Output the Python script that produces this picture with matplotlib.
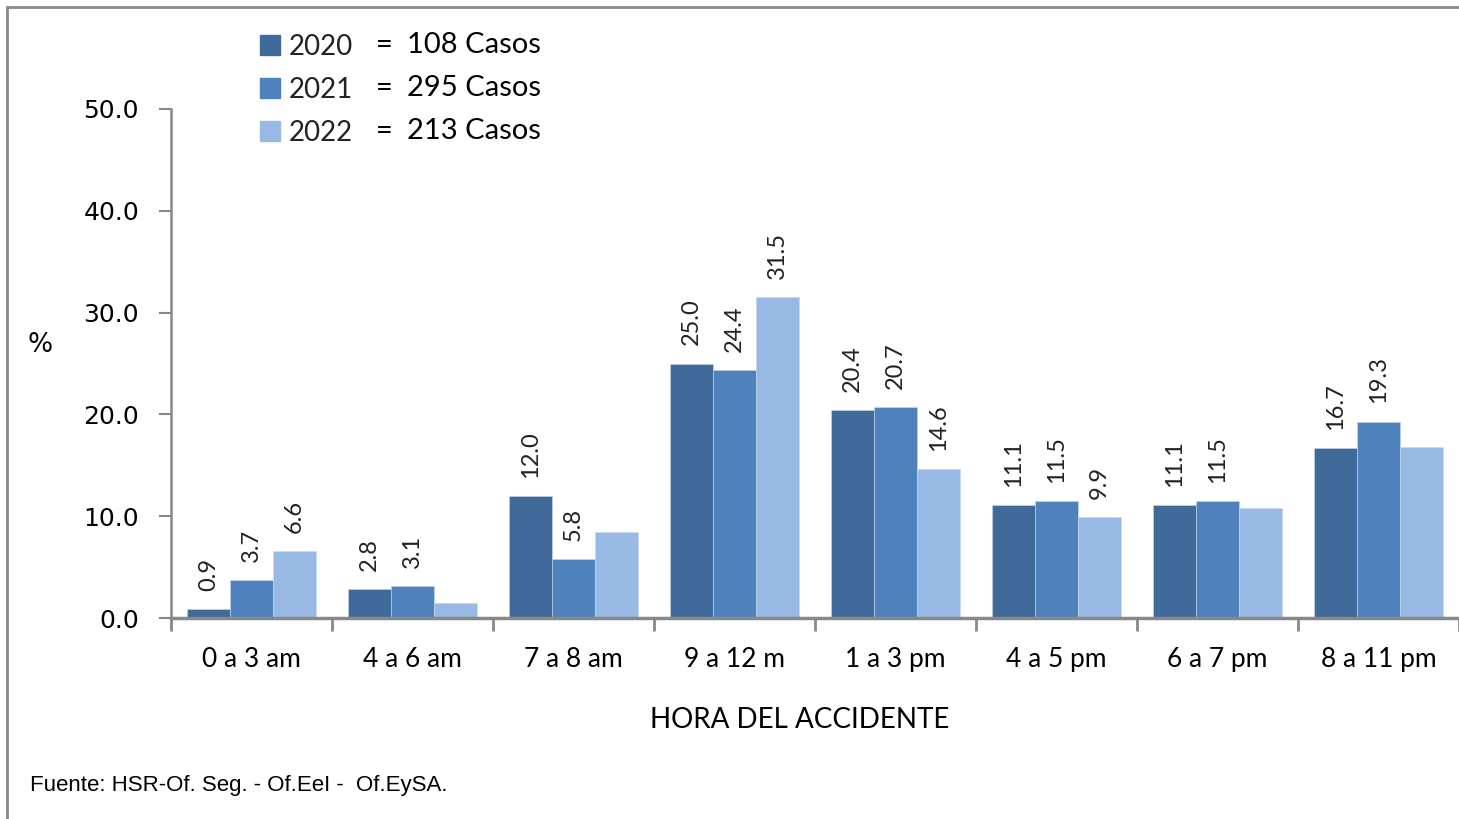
import numpy as np
import matplotlib.pyplot as plt
from matplotlib.patches import Rectangle

horas = ["0 a 3 am", "4 a 6 am", "7 a 8 am", "9 a 12 m",
         "1 a 3 pm", "4 a 5 pm", "6 a 7 pm", "8 a 11 pm"]
anios = ["2020", "2021", "2022"]
casos = [108, 295, 213]
v2020 = [0.9, 2.8, 12.0, 25.0, 20.4, 11.1, 11.1, 16.7]
v2021 = [3.7, 3.1, 5.8, 24.4, 20.7, 11.5, 11.5, 19.3]
v2022 = [6.6, 1.5, 8.4, 31.5, 14.6, 9.9, 10.8, 16.8]
# which 2022 values carry a label in the original
label2022 = [True, False, False, True, True, True, False, False]

colores = ["#406A9A", "#4F81BD", "#97B9E3"]
fuente = "Lato"

fig = plt.figure(figsize=(14.59, 8.19), dpi=100)
ax = fig.add_axes([171/1459, 1-618/819, 1-171/1459, (618-109)/819])

x = np.arange(len(horas))
w = 0.268
series = [v2020, v2021, v2022]
for i, vals in enumerate(series):
    pos = x + (i-1)*w
    ax.bar(pos, vals, w, color=colores[i], edgecolor="#c8d8ee", linewidth=0.4)
    for j, v in enumerate(vals):
        if i == 2 and not label2022[j]:
            continue
        ax.annotate("%.1f" % v, (pos[j], v), xytext=(0, 13), textcoords="offset points",
                    rotation=90, ha="center", va="bottom", fontsize=17,
                    family=fuente, color="#222222")

ax.set_xlim(-0.5, len(horas)-0.5)
ax.set_ylim(0, 50)
ax.set_yticks(np.arange(0, 51, 10))
ax.set_yticklabels(["%.1f" % t for t in np.arange(0, 51, 10)], family="DejaVu Sans", fontsize=18)
ax.set_xticks(x)
ax.set_xticklabels(horas, family=fuente, fontsize=19)
ax.set_xticks(np.arange(-0.5, len(horas), 1), minor=True)
ax.tick_params(axis="x", which="major", length=0, pad=21)
ax.tick_params(axis="x", which="minor", length=9, width=2, color="#888888", direction="out")
ax.tick_params(axis="y", length=9, width=1.5, color="#888888", direction="out", pad=14)

for s in ["top", "right"]:
    ax.spines[s].set_visible(False)
ax.spines["left"].set_color("#888888")
ax.spines["left"].set_linewidth(1.8)
ax.spines["bottom"].set_color("#888888")
ax.spines["bottom"].set_linewidth(2.5)

ax.set_xlabel("HORA DEL ACCIDENTE", family=fuente, fontsize=20, labelpad=27)
ax.xaxis.set_label_coords(0.488, -0.2)
ax.xaxis.label.set_va("center")
fig.text(40/1459, 1-345/819, "%", fontsize=19, family="DejaVu Sans", ha="center", va="center")

# legend drawn by hand
for i in range(3):
    yc = 1 - (45 + 43*i)/819
    fig.add_artist(Rectangle((260/1459, yc - 10/819), 20/1459, 20/819,
                             transform=fig.transFigure, color=colores[i]))
    fig.text(289/1459, yc - 2/819, anios[i], fontsize=20, family=fuente,
             color="#222222", va="center")
    fig.text(376/1459, yc, "=", fontsize=21, family=fuente, va="center")
    fig.text(407/1459, yc, "%d Casos" % casos[i], fontsize=21, family=fuente, va="center")

fig.text(30/1459, 1-785/819, "Fuente: HSR-Of. Seg. - Of.EeI -  Of.EySA.",
         fontsize=16, family="Liberation Sans", va="center")

# outer frame
fig.add_artist(Rectangle((7/1459, -0.1), 1.1, 1 - 7/819 + 0.1, transform=fig.transFigure,
                         fill=False, edgecolor="#888888", linewidth=2))

fig.savefig("out.png", dpi=100)
